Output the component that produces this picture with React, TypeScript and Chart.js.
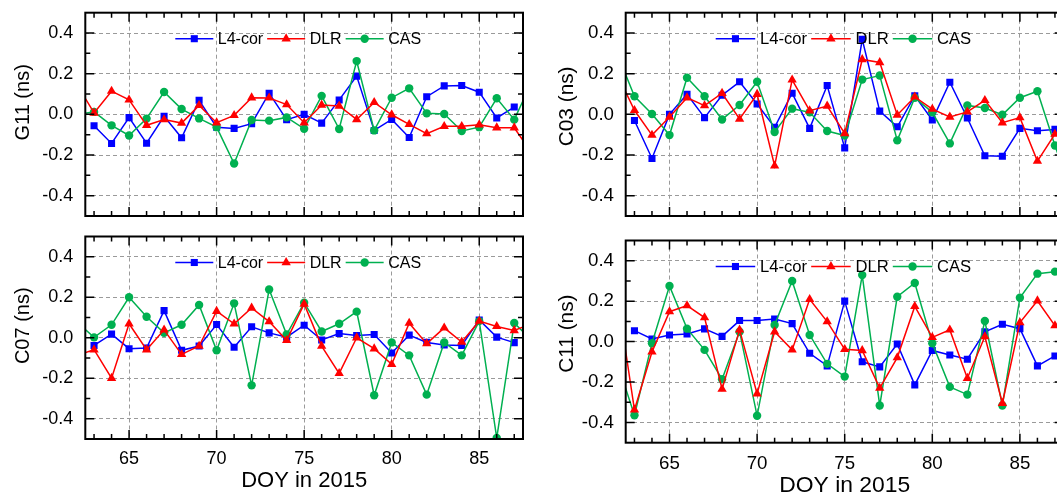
import React, { useEffect, useRef } from 'react';
import { Chart, registerables } from 'chart.js';

Chart.register(...registerables);

// ---------- data ----------
const DOY = [62, 63, 64, 65, 66, 67, 68, 69, 70, 71, 72, 73, 74, 75, 76, 77, 78, 79, 80, 81, 82, 83, 84, 85, 86, 87, 88];
const X_TICKS = [65, 70, 75, 80, 85];
const X_MINOR = [63, 64, 65, 66, 67, 68, 69, 70, 71, 72, 73, 74, 75, 76, 77, 78, 79, 80, 81, 82, 83, 84, 85, 86, 87];
const Y_TICKS = [-0.4, -0.2, 0, 0.2, 0.4];
const Y_MINOR = [-0.4, -0.3, -0.2, -0.1, 0, 0.1, 0.2, 0.3, 0.4];
const SERIES = ['L4-cor', 'DLR', 'CAS'];
const COLORS = ['#0000FF', '#FF0000', '#00B050'];
const MARKERS = ['rect', 'triangle', 'circle'];
const X_TITLE = 'DOY in 2015';

const G11_L4 = [null, -0.056, -0.143, -0.016, -0.142, -0.01, -0.115, 0.069, -0.063, -0.069, -0.046, 0.104, -0.026, 0.0, -0.043, 0.071, 0.188, -0.079, -0.025, -0.114, 0.087, 0.14, 0.142, 0.109, -0.018, 0.036, null];
const G11_DLR = [0.15, 0.007, 0.114, 0.071, -0.054, -0.026, -0.043, 0.044, -0.041, -0.005, 0.082, 0.081, 0.048, -0.041, 0.046, 0.041, -0.025, 0.059, -0.002, -0.049, -0.095, -0.059, -0.059, -0.051, -0.066, -0.066, -0.19];
const G11_CAS = [0.0, 0.012, -0.054, -0.104, -0.021, 0.11, 0.026, -0.02, -0.063, -0.242, -0.028, -0.031, -0.015, -0.071, 0.091, -0.072, 0.262, -0.079, 0.082, 0.128, 0.005, 0.002, -0.082, -0.063, 0.079, -0.026, 0.16];

const C03_L4 = [null, -0.03, -0.217, 0.0, 0.099, -0.016, 0.094, 0.16, 0.051, -0.064, 0.104, -0.069, 0.142, -0.165, 0.369, 0.016, -0.061, 0.091, -0.028, 0.158, -0.018, -0.204, -0.206, -0.069, -0.081, -0.074, -0.07];
const C03_DLR = [0.2, 0.02, -0.102, -0.013, 0.082, 0.043, 0.104, -0.023, 0.099, -0.253, 0.17, 0.018, 0.041, -0.094, 0.27, 0.255, -0.003, 0.086, 0.026, -0.013, 0.012, 0.069, -0.041, -0.016, -0.23, -0.097, -0.05];
const C03_CAS = [0.3, 0.089, 0.002, -0.102, 0.18, 0.089, -0.025, 0.046, 0.16, -0.087, 0.028, 0.01, -0.082, -0.104, 0.171, 0.191, -0.128, 0.082, 0.01, -0.143, 0.044, 0.031, -0.002, 0.082, 0.114, -0.153, -0.4];

const C07_L4 = [null, -0.038, 0.018, -0.054, -0.051, 0.134, -0.062, -0.041, 0.065, -0.047, 0.054, 0.024, 0.003, 0.062, -0.011, 0.021, 0.011, 0.016, -0.075, 0.013, -0.023, -0.036, -0.038, 0.088, 0.003, -0.024, null];
const C07_DLR = [-0.088, -0.059, -0.2, 0.069, -0.059, 0.039, -0.082, -0.041, 0.131, 0.069, 0.147, 0.08, -0.013, 0.167, -0.041, -0.176, 0.0, -0.054, -0.131, 0.072, -0.029, 0.049, -0.021, 0.082, 0.056, 0.036, 0.07];
const C07_CAS = [0.08, 0.002, 0.064, 0.2, 0.104, 0.024, 0.064, 0.162, -0.062, 0.17, -0.235, 0.238, 0.016, 0.173, 0.031, 0.069, 0.129, -0.284, -0.023, -0.087, -0.281, -0.023, -0.087, 0.082, -0.495, 0.073, -0.013];

const C11_L4 = [null, 0.054, 0.013, 0.033, 0.038, 0.063, 0.026, 0.104, 0.104, 0.112, 0.089, -0.058, -0.12, 0.2, -0.1, -0.125, -0.012, -0.214, -0.044, -0.066, -0.087, 0.048, 0.086, 0.064, -0.12, -0.071, -0.05];
const C11_DLR = [0.24, -0.337, -0.051, 0.148, 0.178, 0.119, -0.235, 0.058, -0.258, 0.049, -0.041, 0.209, 0.099, -0.038, -0.044, -0.23, -0.079, 0.174, 0.021, 0.058, -0.181, 0.025, -0.305, 0.094, 0.202, 0.079, 0.1];
const C11_CAS = [-0.1, -0.364, -0.008, 0.275, 0.064, -0.041, -0.186, 0.049, -0.367, 0.082, 0.3, 0.033, -0.11, -0.173, 0.329, -0.316, 0.222, 0.29, -0.008, -0.224, -0.262, 0.102, -0.316, 0.217, 0.336, 0.346, 0.35];

// ---------- layout ----------
const FONT = "'Liberation Sans', Arial, Helvetica, sans-serif";

type PanelCfg = {
  yTitle: string;
  data: (number | null)[][];
  left: number; top: number; width: number; height: number;
  padTop: number; padRight: number; yWidth: number; xHeight: number;
  showX: boolean; s: number; titleX: number; titleShift: number;
  xTitlePad: number; xTickPad: number; yTickPad: number;
};

const PANELS: PanelCfg[] = [
  { yTitle: 'G11 (ns)', data: [G11_L4, G11_DLR, G11_CAS], left: 0, top: 0, width: 540, height: 226,
    padTop: 12.7, padRight: 17, yWidth: 85.3, xHeight: 10, showX: false, s: 1, titleX: 23, titleShift: -12,
    xTitlePad: 3.5, xTickPad: 9.5, yTickPad: 12 },
  { yTitle: 'C03 (ns)', data: [C03_L4, C03_DLR, C03_CAS], left: 540, top: 0, width: 540, height: 226,
    padTop: 12.7, padRight: 16.3, yWidth: 85.7, xHeight: 10, showX: false, s: 1.04, titleX: 27, titleShift: -8,
    xTitlePad: 2.7, xTickPad: 10, yTickPad: 11.7 },
  { yTitle: 'C07 (ns)', data: [C07_L4, C07_DLR, C07_CAS], left: 0, top: 226, width: 540, height: 272,
    padTop: 10.5, padRight: 17, yWidth: 85.3, xHeight: 59, showX: true, s: 1, titleX: 23, titleShift: -12,
    xTitlePad: 3.5, xTickPad: 9.5, yTickPad: 12 },
  { yTitle: 'C11 (ns)', data: [C11_L4, C11_DLR, C11_CAS], left: 540, top: 226, width: 540, height: 276,
    padTop: 14.5, padRight: 16.3, yWidth: 85.7, xHeight: 59.3, showX: true, s: 1.04, titleX: 27, titleShift: -8,
    xTitlePad: 2.7, xTickPad: 10, yTickPad: 11.7 },
];

function drawMarker(ctx: CanvasRenderingContext2D, style: string, x: number, y: number, r: number) {
  ctx.beginPath();
  if (style === 'rect') {
    const h = r * Math.SQRT1_2;
    ctx.rect(x - h, y - h, 2 * h, 2 * h);
  } else if (style === 'triangle') {
    ctx.moveTo(x, y - r);
    ctx.lineTo(x + r * Math.sin((2 * Math.PI) / 3), y - r * Math.cos((2 * Math.PI) / 3));
    ctx.lineTo(x + r * Math.sin((4 * Math.PI) / 3), y - r * Math.cos((4 * Math.PI) / 3));
    ctx.closePath();
  } else {
    ctx.arc(x, y, r, 0, Math.PI * 2);
  }
  ctx.fill();
}

const RADII = [5, 5.4, 4.2];
const ORDERS = [2, 0, 1];

function Panel({ cfg }: { cfg: PanelCfg }) {
  const ref = useRef<HTMLCanvasElement>(null);
  useEffect(() => {
    const canvas = ref.current;
    if (!canvas) return;
    const s = cfg.s;

    const frame = {
      id: 'frame',
      afterDraw(chart: any) {
        const { ctx, chartArea: a, scales } = chart;
        const x = scales.x, y = scales.y;
        ctx.save();
        ctx.strokeStyle = '#000';
        ctx.lineWidth = 1.5;
        ctx.beginPath();
        X_MINOR.forEach((v) => {
          const px = x.getPixelForValue(v);
          const len = v % 5 === 0 ? 9 : 5;
          ctx.moveTo(px, a.bottom); ctx.lineTo(px, a.bottom - len);
          ctx.moveTo(px, a.top); ctx.lineTo(px, a.top + len);
        });
        Y_MINOR.forEach((v) => {
          const py = y.getPixelForValue(v);
          const major = Math.abs(Math.round(v * 10)) % 2 === 0;
          const len = major ? 9 : 5;
          ctx.moveTo(a.left, py); ctx.lineTo(a.left + len, py);
          ctx.moveTo(a.right, py); ctx.lineTo(a.right - len, py);
        });
        ctx.stroke();
        ctx.lineWidth = 2;
        ctx.strokeRect(a.left, a.top, a.right - a.left, a.bottom - a.top);

        // y-axis title
        ctx.fillStyle = '#000';
        ctx.font = `${20 * s}px ${FONT}`;
        ctx.textAlign = 'center';
        ctx.textBaseline = 'middle';
        ctx.translate(cfg.titleX, (a.top + a.bottom) / 2 + cfg.titleShift);
        ctx.rotate(-Math.PI / 2);
        ctx.fillText(cfg.yTitle, 0, 0);
        ctx.restore();
      },
    };

    const legend = {
      id: 'insideLegend',
      afterDatasetsDraw(chart: any) {
        const { ctx, chartArea: a } = chart;
        ctx.save();
        ctx.font = `${16 * s}px ${FONT}`;
        ctx.textBaseline = 'middle';
        ctx.textAlign = 'left';
        let cx = a.left + 90;
        const cy = a.top + 26;
        const lineLen = 38 * s;
        SERIES.forEach((name, i) => {
          ctx.strokeStyle = COLORS[i];
          ctx.fillStyle = COLORS[i];
          ctx.lineWidth = 1.5;
          ctx.beginPath();
          ctx.moveTo(cx, cy);
          ctx.lineTo(cx + lineLen, cy);
          ctx.stroke();
          drawMarker(ctx, MARKERS[i], cx + lineLen / 2, cy, RADII[i]);
          cx += lineLen + 4.5 * s;
          ctx.fillStyle = '#000';
          ctx.fillText(name, cx, cy + 1);
          cx += ctx.measureText(name).width + 4 * s;
        });
        ctx.restore();
      },
    };

    const datasets = SERIES.map((name, i) => ({
      label: name,
      data: DOY.map((d, j) => ({ x: d, y: cfg.data[i][j] })),
      borderColor: COLORS[i],
      backgroundColor: COLORS[i],
      borderWidth: 1.5,
      pointStyle: MARKERS[i],
      pointRadius: RADII[i],
      pointBorderWidth: 0,
      pointBackgroundColor: COLORS[i],
      tension: 0,
      order: ORDERS[i],
    }));

    const gridCfg = { color: '#9a9a9a', lineWidth: 1, drawTicks: false };
    const borderCfg = { display: false, dash: [4, 3] };

    const chart = new Chart(canvas, {
      type: 'line',
      data: { datasets },
      plugins: [legend, frame],
      options: {
        animation: false,
        responsive: false,
        maintainAspectRatio: false,
        devicePixelRatio: 1,
        layout: { padding: { top: cfg.padTop, right: cfg.padRight, bottom: 0, left: 0 } },
        plugins: { legend: { display: false }, tooltip: { enabled: false }, title: { display: false } },
        scales: {
          x: {
            type: 'linear',
            min: 62.5,
            max: 87.5,
            afterBuildTicks: (sc: any) => { sc.ticks = X_TICKS.map((v) => ({ value: v })); },
            afterFit: (sc: any) => { sc.height = cfg.xHeight; sc.paddingLeft = 0; sc.paddingRight = 0; },
            grid: gridCfg,
            border: borderCfg,
            ticks: {
              display: cfg.showX,
              autoSkip: false,
              maxRotation: 0,
              padding: cfg.xTickPad,
              color: '#000',
              font: { family: FONT, size: 18 * s },
              callback: (v: any) => String(v),
            },
            title: {
              display: cfg.showX,
              text: X_TITLE,
              color: '#000',
              font: { family: FONT, size: 22 * s },
              padding: { top: 0, bottom: cfg.xTitlePad },
            },
          },
          y: {
            type: 'linear',
            min: -0.5,
            max: 0.5,
            afterBuildTicks: (sc: any) => { sc.ticks = Y_TICKS.map((v) => ({ value: v })); },
            afterFit: (sc: any) => { sc.width = cfg.yWidth; sc.paddingTop = 0; sc.paddingBottom = 0; },
            grid: gridCfg,
            border: borderCfg,
            ticks: {
              padding: cfg.yTickPad,
              color: '#000',
              font: { family: FONT, size: 18 * s },
              callback: (v: any) => Number(v).toFixed(1),
            },
            title: { display: false },
          },
        },
      } as any,
    });
    return () => chart.destroy();
  }, [cfg]);

  return (
    <canvas
      ref={ref}
      width={cfg.width}
      height={cfg.height}
      style={{ position: 'absolute', left: cfg.left, top: cfg.top, width: cfg.width, height: cfg.height }}
    />
  );
}

export default function App() {
  return (
    <div style={{ position: 'fixed', left: 0, top: 0, width: 1057, height: 498, overflow: 'hidden', background: '#fff' }}>
      {PANELS.map((p) => (
        <Panel key={p.yTitle} cfg={p} />
      ))}
    </div>
  );
}
